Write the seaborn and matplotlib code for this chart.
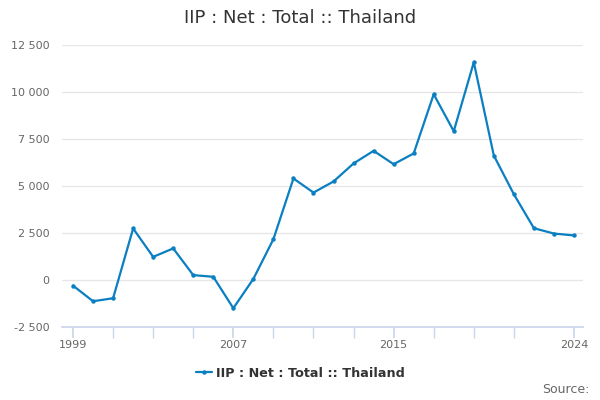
import pandas as pd
import seaborn as sns
import matplotlib.pyplot as plt
from matplotlib.ticker import FuncFormatter

years = list(range(1999, 2025))
values = [-300, -1130, -970, 2740, 1230, 1680, 260, 170, -1500, 60,
          2170, 5400, 4650, 5240, 6200, 6870, 6160, 6730, 9880, 7915,
          11580, 6620, 4560, 2755, 2470, 2370]
series_name = "IIP : Net : Total :: Thailand"
y_ticks = [-2500, 0, 2500, 5000, 7500, 10000, 12500]
x_labels = [1999, 2007, 2015, 2024]

df = pd.DataFrame({"year": years, "value": values})

sns.set_theme(style="white")
plt.rcParams["font.family"] = ["DejaVu Sans"]

line_color = "#0a7fc2"
fig = plt.figure(figsize=(6, 4), dpi=100)
ax = fig.add_axes([62 / 600, 73 / 400, 521 / 600, 282 / 400])

sns.lineplot(data=df, x="year", y="value", ax=ax, color=line_color,
             linewidth=1.6, marker="o", markersize=3.2,
             markeredgewidth=0, label=series_name)

ax.set_ylim(-2500, 12500)
ax.set_xlim(1999 - 0.55, 2024 + 0.45)
ax.set_yticks(y_ticks)
ax.yaxis.set_major_formatter(FuncFormatter(lambda v, p: f"{int(v):,}".replace(",", " ")))
ax.set_xticks(x_labels)
ax.set_xticklabels([str(x) for x in x_labels])
ax.set_xticks(list(range(1999, 2023, 2)) + [2024], minor=True)
ax.grid(axis="y", color="#e6e6e6", linewidth=0.9)
ax.set_axisbelow(True)
for s in ["top", "right", "left"]:
    ax.spines[s].set_visible(False)
ax.spines["bottom"].set_color("#ccd6eb")
ax.tick_params(axis="y", length=0, labelsize=8, colors="#666666", pad=9)
ax.tick_params(axis="x", which="both", length=8, color="#ccd6eb",
               labelsize=8, labelcolor="#666666", bottom=True, pad=1)
ax.set_xlabel("")
ax.set_ylabel("")

fig.suptitle(series_name, x=0.5, y=0.978, fontsize=13, color="#333333")
ax.legend(loc="upper center", bbox_to_anchor=(0.5 - 22 / 521, -0.1), frameon=False,
          prop={"size": 9.2, "weight": "bold"}, labelcolor="#333333",
          handlelength=1.2, handletextpad=0.3)
fig.text(0.983, 0.01, "Source:", ha="right", va="bottom", fontsize=9, color="#666666")

plt.savefig("out.png", dpi=100)
